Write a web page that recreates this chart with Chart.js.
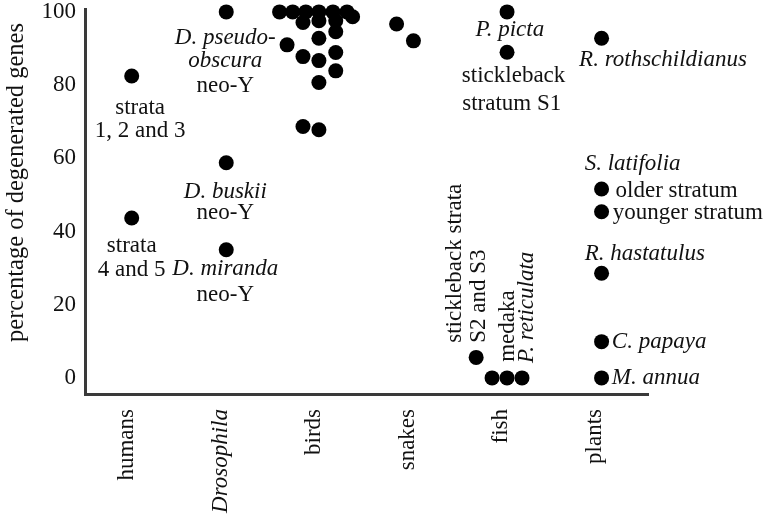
<!DOCTYPE html>
<html>
<head>
<meta charset="utf-8">
<script src="https://cdn.jsdelivr.net/npm/chart.js@4"></script>
<style>
  html, body { margin: 0; padding: 0; background: #fff; }
</style>
</head>
<body>
<canvas id="chart" width="764" height="517"></canvas>
<script>
// ── Данные ────────────────────────────────────────────
const categories = ['humans', 'Drosophila', 'birds', 'snakes', 'fish', 'plants']
const yTicks     = [0, 20, 40, 60, 80, 100]

const humansX = [0.05, 0.05]
const humansY = [82.5, 43.7]

const droX = [1.06, 1.06, 1.06]
const droY = [100, 58.8, 35]

const birdsX = [1.63, 1.77, 1.91, 2.05, 2.20, 2.35, 2.41, 1.88, 2.05, 2.23, 2.23, 2.05, 1.71, 1.88, 2.05, 2.23, 2.23, 2.05, 1.88, 2.05]
const birdsY = [100, 100, 100, 100, 100, 100, 98.7, 97.1, 97.6, 97.6, 94.6, 92.8, 91, 87.8, 86.7, 88.9, 83.9, 80.7, 68.7, 67.8]

const snakesX = [2.88, 3.06]
const snakesY = [96.7, 92.1]

const fishX = [4.06, 4.06, 3.73, 3.90, 4.06, 4.22]
const fishY = [100, 89, 5.6, 0, 0, 0]

const plantsX = [5.07, 5.07, 5.07, 5.07, 5.07, 5.07]
const plantsY = [92.8, 51.6, 45.4, 28.6, 9.9, 0]

// подписи: текст, позиция в единицах осей, стиль
const noteText = ['strata', '1, 2 and 3', 'strata', '4 and 5',
  'D. pseudo-', 'obscura', 'neo-Y', 'D. buskii', 'neo-Y', 'D. miranda', 'neo-Y',
  'P. picta', 'stickleback', 'stratum S1',
  'R. rothschildianus', 'S. latifolia', 'older stratum', 'younger stratum', 'R. hastatulus', 'C. papaya', 'M. annua',
  'stickleback strata', 'S2 and S3', 'medaka', 'P. reticulata']
const noteX = [0.14, 0.14, 0.05, 0.05,
  1.05, 1.05, 1.05, 1.05, 1.05, 1.05, 1.05,
  4.09, 4.13, 4.11,
  4.83, 4.89, 5.22, 5.19, 4.89, 5.18, 5.18,
  3.50, 3.76, 4.07, 4.27]
const noteY = [74.3, 67.8, 36.4, 29.8,
  93.3, 86.9, 80.3, 51.3, 45.4, 30.3, 23.2,
  95.6, 83, 75.4,
  87.4, 59, 51.6, 45.6, 34.4, 10.1, 0.5,
  9.6, 9.6, 4.4, 4.1]
const noteKind = ['c', 'c', 'c', 'c',
  'ci', 'ci', 'c', 'ci', 'c', 'ci', 'c',
  'ci', 'c', 'c',
  'li', 'li', 'l', 'l', 'li', 'li', 'li',
  'v', 'v', 'v', 'vi']

const FONT = "'Liberation Serif', 'DejaVu Serif', serif"
const INK  = '#111'
const AXIS = '#3a3a3a'

const toPts = (xs, ys) => xs.map((x, i) => ({ x, y: ys[i] }))

const notesPlugin = {
  id: 'notes',
  afterDatasetsDraw(chart) {
    const { ctx, scales: { x, y }, chartArea } = chart
    ctx.save()
    ctx.fillStyle = INK
    noteText.forEach((t, i) => {
      const k  = noteKind[i]
      const px = x.getPixelForValue(noteX[i])
      const py = y.getPixelForValue(noteY[i])
      ctx.font = `${k.endsWith('i') ? 'italic ' : ''}23px ${FONT}`
      ctx.textBaseline = 'middle'
      if (k[0] === 'v') {
        ctx.save()
        ctx.translate(px, py)
        ctx.rotate(-Math.PI / 2)
        ctx.textAlign = 'left'
        ctx.fillText(t, 0, 0)
        ctx.restore()
      } else {
        ctx.textAlign = k[0] === 'l' ? 'left' : 'center'
        ctx.fillText(t, px, py + 1.5)
      }
    })
    // подпись оси Y
    ctx.translate(16.5, chartArea.top + 173.5)
    ctx.rotate(-Math.PI / 2)
    ctx.textAlign = 'center'
    ctx.textBaseline = 'middle'
    ctx.font = `24.5px ${FONT}`
    ctx.fillText('percentage of degenerated genes', 0, 0)
    ctx.restore()
  }
}

const groups = [[humansX, humansY], [droX, droY], [birdsX, birdsY], [snakesX, snakesY], [fishX, fishY], [plantsX, plantsY]]

/* global Chart */
new Chart(document.getElementById('chart'), {
  type: 'scatter',
  data: {
    datasets: groups.map(([xs, ys], i) => ({
      label: categories[i],
      data: toPts(xs, ys),
      backgroundColor: '#000',
      borderColor: '#000',
      borderWidth: 0,
      pointRadius: 7.5,
      clip: false,
    }))
  },
  options: {
    responsive: false,
    animation: false,
    layout: { padding: { top: 9, right: 116, bottom: 0, left: 0 } },
    plugins: { legend: { display: false }, tooltip: { enabled: false } },
    scales: {
      x: {
        type: 'linear', min: -0.449, max: 5.566,
        afterBuildTicks: s => { s.ticks = categories.map((c, i) => ({ value: i })) },
        ticks: {
          autoSkip: false, minRotation: 90, maxRotation: 90, padding: 15, color: INK,
          callback: v => categories[v],
          font: c => ({ family: FONT, size: 23, style: c.tick && categories[c.tick.value] === 'Drosophila' ? 'italic' : 'normal' })
        },
        grid: { display: false, drawTicks: false },
        border: { display: true, color: AXIS, width: 3 },
        afterFit: s => { s.height = 123; s.paddingLeft = 0; s.paddingRight = 0 }
      },
      y: {
        min: -4.4, max: 100.8,
        afterBuildTicks: s => { s.ticks = yTicks.map(v => ({ value: v })) },
        ticks: { padding: 9, color: INK, font: { family: FONT, size: 23 } },
        grid: { display: false, drawTicks: false },
        border: { display: true, color: AXIS, width: 3 },
        afterFit: s => { s.width = 85; s.paddingTop = 0; s.paddingBottom = 0 }
      }
    }
  },
  plugins: [notesPlugin]
})
</script>
</body>
</html>
